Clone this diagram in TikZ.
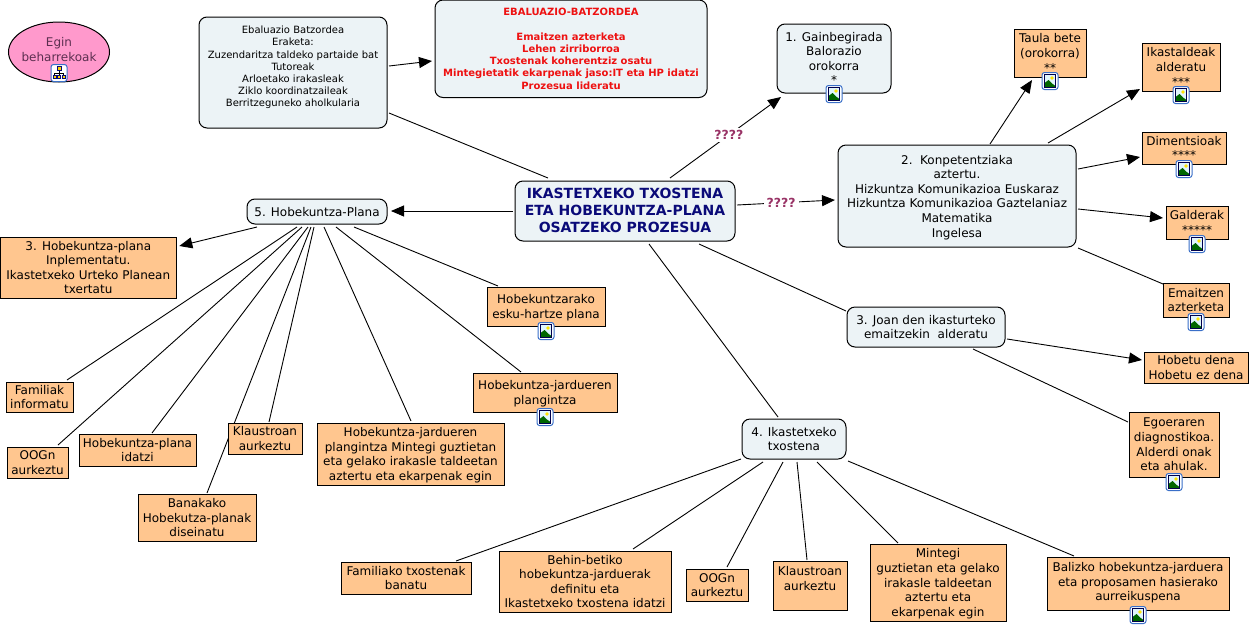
\documentclass[tikz,border=0pt]{standalone}
\usepackage{fontspec}
\setmainfont{DejaVu Sans}
\usetikzlibrary{arrows.meta,backgrounds,shapes.geometric}
\definecolor{conceptblue}{HTML}{ECF3F6}
\definecolor{conceptorange}{HTML}{FFC68F}
\definecolor{conceptpink}{HTML}{FF99CC}
\definecolor{plumtext}{HTML}{993366}
\definecolor{eggtext}{HTML}{5C2F50}
\definecolor{navytext}{HTML}{0A0A78}
\definecolor{redtext}{HTML}{EE1111}
\definecolor{iconblue}{HTML}{3A6FC8}
\tikzset{
  every node/.style={inner sep=0pt,outer sep=0pt,align=center},
  cbox/.style={draw=black,line width=1pt,fill=conceptblue,rounded corners=8pt,text depth=0pt,font=\fontsize{12}{14.6}\selectfont},
  obox/.style={draw=black,line width=1pt,fill=conceptorange,text depth=0pt,font=\fontsize{12}{14.6}\selectfont},
  smalltext/.style={font=\fontsize{10}{12.2}\selectfont},
  link/.style={draw=black,line width=.9pt},
  arrowlink/.style={link,-{Triangle[length=13pt,width=11pt]}},
  lab/.style={fill=white,text=plumtext,inner xsep=3pt,inner ysep=2pt,font=\fontsize{12.5}{15}\selectfont\bfseries}
}
% box given by its corners, in reference pixels
\newcommand{\bx}[7][]{\node[#1,minimum width={(#4)-(#2)},minimum height={(#5)-(#3)}] (#6) at ({(#2+#4)/2},{(#3+#5)/2}) {#7};}
% connector from node to node, with offsets from the node centres
\newcommand{\lk}[5][link]{\draw[#1] ([shift={(#3)}]#2.center) -- ([shift={(#5)}]#4.center);}
\newcommand{\imgicon}[2]{%
  \begin{scope}[shift={(#1,#2)}]
    \fill[white,draw=iconblue,line width=1pt,rounded corners=2.5pt] (-8,-8.5) rectangle (8,8.5);
    \fill[cyan!12!white] (-5.5,-6.5) rectangle (5.5,6.5);
    \fill[yellow!85!orange] (2,-3) circle (1.8);
    \fill[green!40!black] (-5.5,6.5) -- (-5.5,2) -- (-1.5,-1) -- (2,2.5) -- (5.5,5) -- (5.5,6.5) -- cycle;
    \draw[black!70!blue,line width=.9pt] (-5.5,-6.5) rectangle (5.5,6.5);
  \end{scope}}
\newcommand{\mapicon}[2]{%
  \begin{scope}[shift={(#1,#2)}]
    \fill[white,draw=iconblue,line width=1pt,rounded corners=2.5pt] (-8,-8.5) rectangle (8,8.5);
    \draw[black,line width=.6pt] (0,-3) -- (0,3) (-4.5,3) -- (-4.5,0) -- (4.5,0) -- (4.5,3);
    \fill[yellow!70!orange,draw=navytext,line width=.7pt] (-2,-6.5) rectangle (2,-2.5);
    \fill[yellow!70!orange,draw=navytext,line width=.6pt] (-6,2.5) rectangle (-3,5.5) (-1.5,2.5) rectangle (1.5,5.5) (3,2.5) rectangle (6,5.5);
  \end{scope}}
\begin{document}
\begin{tikzpicture}[x=1pt,y=-1pt]
\useasboundingbox (0,0) rectangle (1250,627);
% concepts
\node[ellipse,draw=black,line width=1pt,fill=conceptpink,inner sep=-4pt,minimum width=101,minimum height=60,text=eggtext,text depth=5pt,font=\fontsize{12}{14.6}\selectfont] (egin) at (59,52) {Egin\\beharrekoak};
\bx[cbox,smalltext]{199}{17}{387}{128}{eval}{Ebaluazio Batzordea\\Eraketa:\\Zuzendaritza taldeko partaide bat\\Tutoreak\\Arloetako irakasleak\\Ziklo koordinatzaileak\\Berritzeguneko aholkularia\\\mbox{}}
\bx[cbox,font=\fontsize{10}{12.2}\selectfont\bfseries,text=redtext]{435}{0}{707}{97.5}{red}{EBALUAZIO-BATZORDEA\\\mbox{}\\Emaitzen azterketa\\Lehen zirriborroa\\Txostenak koherentziz osatu\\Mintegietatik ekarpenak jaso:IT eta HP idatzi\\Prozesua lideratu}
\bx[cbox]{777}{24}{891}{93}{gain}{1. Gainbegirada\\Balorazio\\orokorra\\*}
\bx[cbox,text depth=2pt,font=\fontsize{14}{17}\selectfont\bfseries,text=navytext]{515}{181}{735}{241}{cen}{IKASTETXEKO TXOSTENA\\ETA HOBEKUNTZA-PLANA\\OSATZEKO PROZESUA}
\bx[cbox]{838}{145}{1076}{247}{konp}{2.\ \ Konpetentziaka\\aztertu.\\Hizkuntza Komunikazioa Euskaraz\\Hizkuntza Komunikazioa Gaztelaniaz\\Matematika\\Ingelesa}
\bx[obox]{1014}{29}{1086}{77}{taula}{Taula bete\\(orokorra)\\**}
\bx[obox]{1142}{43}{1220}{91}{ikast}{Ikastaldeak\\alderatu\\***}
\bx[obox]{1142}{132}{1226}{164}{dim}{Dimentsioak\\****}
\bx[obox]{1166}{206}{1228}{239}{gald}{Galderak\\*****}
\bx[obox]{1163}{283}{1229}{317}{emait}{Emaitzen\\azterketa}
\bx[obox]{1144}{352}{1248}{383}{hobetu}{Hobetu dena\\Hobetu ez dena}
\bx[obox]{1129}{412}{1219}{477}{egoera}{Egoeraren\\diagnostikoa.\\Alderdi onak\\eta ahulak.}
\bx[cbox]{847}{307}{1005}{347}{joan}{3. Joan den ikasturteko\\emaitzekin\ \ alderatu}
\bx[cbox]{742}{419}{846}{459}{ikat}{4. Ikastetxeko\\txostena}
\bx[cbox]{247}{199}{387}{224}{hob}{5. Hobekuntza-Plana}
\bx[obox]{0.6}{237}{176}{298}{impl}{3. Hobekuntza-plana\\Inplementatu.\\Ikastetxeko Urteko Planean\\txertatu}
\bx[obox]{6}{382}{73}{412}{fam}{Familiak\\informatu}
\bx[obox]{7}{447}{68}{478}{oog}{OOGn\\aurkeztu}
\bx[obox]{79}{434}{196}{466}{idatzi}{Hobekuntza-plana\\idatzi}
\bx[obox]{228}{423}{302}{454}{klau}{Klaustroan\\aurkeztu}
\bx[obox]{138}{494}{256}{541}{bana}{Banakako\\Hobekutza-planak\\diseinatu}
\bx[obox]{317}{423}{504}{485}{mint}{Hobekuntza-jardueren\\plangintza Mintegi guztietan\\eta gelako irakasle taldeetan\\aztertu eta ekarpenak egin}
\bx[obox]{487}{287}{605}{326}{esku}{Hobekuntzarako\\esku-hartze plana}
\bx[obox]{473}{373}{617}{412}{plang}{Hobekuntza-jardueren\\plangintza}
\bx[obox]{341}{562}{471}{594}{famk}{Familiako txostenak\\banatu}
\bx[obox]{499}{551}{671}{612}{behin}{Behin-betiko\\hobekuntza-jarduerak\\definitu eta\\Ikastetxeko txostena idatzi}
\bx[obox]{686}{569}{748}{601}{ooga}{OOGn\\aurkeztu}
\bx[obox]{773}{561}{847}{610}{klaua}{Klaustroan\\aurkeztu\\\mbox{}}
\bx[obox]{870}{544}{1006}{621}{minta}{Mintegi\\guztietan eta gelako\\irakasle taldeetan\\aztertu eta\\ekarpenak egin}
\bx[obox,text depth=4pt]{1047}{557}{1229}{610}{bali}{Balizko hobekuntza-jarduera\\eta proposamen hasierako\\aurreikuspena}
% icons
\mapicon{59}{73}
\imgicon{834}{94}
\imgicon{1050}{81}
\imgicon{1181}{95}
\imgicon{1184}{169}
\imgicon{1197}{244}
\imgicon{1196}{322}
\imgicon{1174}{482}
\imgicon{546}{331}
\imgicon{545}{417}
\imgicon{1138}{615}
% connectors, behind the boxes
\begin{scope}[on background layer]
\lk{eval}{96,40.5}{cen}{-77,-33}
\lk[arrowlink]{eval}{96,-6.5}{red}{-139,12.25}
\draw[arrowlink] ([shift={(45,-33)}]cen.center) -- node[lab,pos=.53] (qa) {????} ([shift={(-53,38.5)}]gain.center);
\draw[arrowlink] ([shift={(112,-6)}]cen.center) -- node[lab,pos=.45] (qb) {????} ([shift={(-122,4)}]konp.center);
\lk[arrowlink]{cen}{-112,0}{hob}{74,-0.5}
\lk{cen}{24,33}{ikat}{-16,-22}
\lk{cen}{74,33}{joan}{-80,-16}
\lk[arrowlink]{joan}{81,12}{hobetu}{-54,-7.5}
\lk{joan}{47,22}{egoera}{-46,-22.5}
\lk[arrowlink]{konp}{33,-52}{taula}{-18,27}
\lk[arrowlink]{konp}{91,-53}{ikast}{-41,22}
\lk[arrowlink]{konp}{121,-27}{dim}{-44,9}
\lk[arrowlink]{konp}{121,13}{gald}{-34,-4.5}
\lk{konp}{121,52}{emait}{-33,-16}
\lk[arrowlink]{hob}{-60,15.5}{impl}{91,-21.5}
\lk{hob}{-20,15.5}{fam}{27.5,-17}
\lk{hob}{-15,15.5}{oog}{20.5,-17.5}
\lk{hob}{-9,15.5}{idatzi}{14.5,-17}
\lk{hob}{-6,15.5}{bana}{10,-24.5}
\lk{hob}{-3,15.5}{klau}{4,-16.5}
\lk{hob}{7,15.5}{mint}{0.5,-33}
\lk{hob}{19,15.5}{plang}{-24,-20.5}
\lk{hob}{37,15.5}{esku}{-48,-20.5}
\lk{ikat}{-53,20}{famk}{50,-17}
\lk{ikat}{-31,23}{behin}{48,-32.5}
\lk{ikat}{-11,23}{ooga}{10,-18}
\lk{ikat}{3,23}{klaua}{-3,-25.5}
\lk{ikat}{23,23}{minta}{-40,-39.5}
\lk{ikat}{54,22}{bali}{-64,-27.5}
\end{scope}
\end{tikzpicture}
\end{document}
